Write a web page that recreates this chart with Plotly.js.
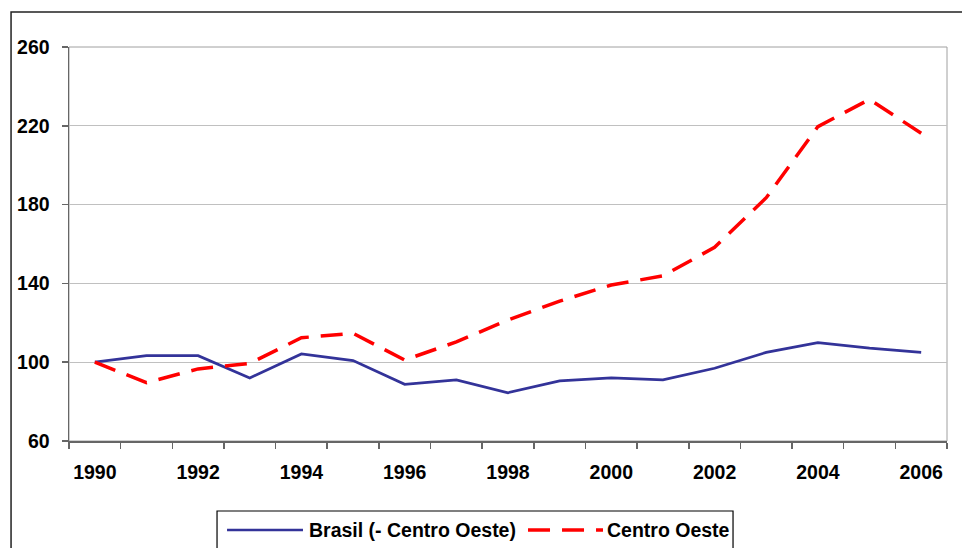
<!DOCTYPE html>
<html>
<head>
<meta charset="utf-8">
<script src="https://cdn.plot.ly/plotly-3.0.1.min.js"></script>
<style>html,body{margin:0;padding:0;background:#fff;}#chart{width:962px;height:548px;}</style>
</head>
<body>
<div id="chart"></div>
<script>
const years = [1990,1991,1992,1993,1994,1995,1996,1997,1998,1999,2000,2001,2002,2003,2004,2005,2006];
const brasil = [100,103.3,103.3,92.0,104.2,100.8,88.8,91.0,84.5,90.5,92.0,91.0,96.9,105.0,109.9,107.1,105.0];
const centroOeste = [100,89.6,96.6,99.4,112.4,114.7,101.1,110.3,121.4,131.0,139.2,143.8,158.3,183.5,219.6,233.4,216.2];
const xTickLabels = ['1990','1992','1994','1996','1998','2000','2002','2004','2006'];
const xTickVals = [1990,1992,1994,1996,1998,2000,2002,2004,2006];
const yTickVals = [60,100,140,180,220,260];
const seriesNames = ['Brasil (- Centro Oeste)','Centro Oeste'];

const FONT = {family: '"Liberation Sans", Arial, sans-serif', size: 19.5, color: '#000', weight: 'bold'};
const blueLine = {color: '#333399', width: 2.7};
const redLine = {color: '#FF0000', width: 3.5, dash: '22px,12px'};

const traces = [
  {x: years, y: brasil, name: seriesNames[0], type: 'scatter', mode: 'lines', line: blueLine, showlegend: false},
  {x: years, y: centroOeste, name: seriesNames[1], type: 'scatter', mode: 'lines', line: redLine, showlegend: false}
];

const layout = {
  width: 962, height: 548,
  margin: {l: 69, r: 15, t: 47, b: 107},
  paper_bgcolor: '#fff', plot_bgcolor: '#fff',
  font: FONT,
  xaxis: {
    range: [1989.5, 2006.5],
    tickvals: xTickVals, ticktext: xTickLabels,
    ticks: '', showgrid: false, zeroline: false,
    showline: true, linecolor: '#666', linewidth: 2,
    ticklabelstandoff: 13,
    minor: {tick0: 1989.5, dtick: 1, ticks: 'outside', ticklen: 6, tickcolor: '#666', tickwidth: 1.5, showgrid: false},
    tickfont: FONT, fixedrange: true
  },
  yaxis: {
    range: [60, 260],
    tickvals: yTickVals,
    ticks: 'outside', ticklen: 6, tickcolor: '#666', tickwidth: 1.5,
    showgrid: true, gridcolor: '#c0c0c0', gridwidth: 1,
    zeroline: false, showline: true, linecolor: '#666', linewidth: 1.5,
    ticklabelstandoff: 8,
    tickfont: FONT, fixedrange: true
  },
  shapes: [
    {type: 'rect', xref: 'paper', yref: 'paper', x0: 0, y0: 0, x1: 1, y1: 1, line: {color: '#a0a0a0', width: 1}, layer: 'below'},
    {type: 'rect', xref: 'paper', yref: 'paper', x0: -0.066, y0: -0.32, x1: 1.03, y1: 1.0888, line: {color: '#222', width: 1.5}, layer: 'below'},
    {type: 'rect', xref: 'paper', yref: 'paper', x0: 0.1686, y0: -0.33, x1: 0.7563, y1: -0.1777, line: {color: '#000', width: 1.2}},
    {type: 'line', xref: 'paper', yref: 'paper', x0: 0.18, x1: 0.2665, y0: -0.2259, y1: -0.2259, line: blueLine},
    {type: 'line', xref: 'paper', yref: 'paper', x0: 0.5228, x1: 0.6082, y0: -0.2259, y1: -0.2259, line: redLine}
  ],
  annotations: [
    {xref: 'paper', yref: 'paper', x: 0.2711, y: -0.2259, xanchor: 'left', yanchor: 'middle', text: seriesNames[0], showarrow: false, font: FONT},
    {xref: 'paper', yref: 'paper', x: 0.6105, y: -0.2259, xanchor: 'left', yanchor: 'middle', text: seriesNames[1], showarrow: false, font: FONT}
  ]
};

Plotly.newPlot('chart', traces, layout, {displayModeBar: false, staticPlot: true});
</script>
</body>
</html>
